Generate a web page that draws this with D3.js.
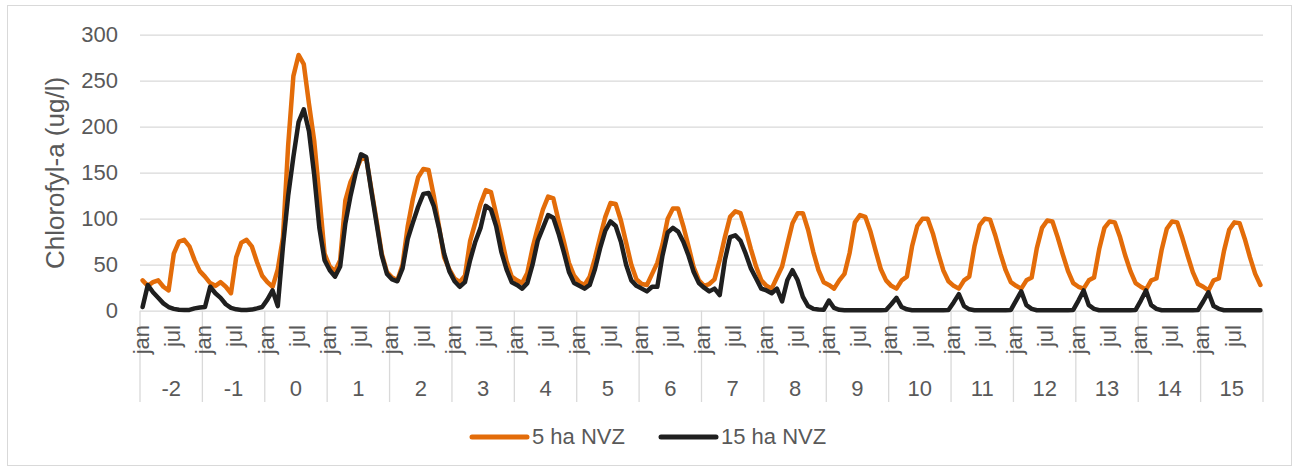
<!DOCTYPE html>
<html>
<head>
<meta charset="utf-8">
<script src="https://cdn.jsdelivr.net/npm/d3@7"></script>
<style>
  body { margin: 0; background: #fff; }
  svg { display: block; }
  text { font-family: "Liberation Sans", Arial, sans-serif; fill: #595959; }
</style>
</head>
<body>
<script>
  // years on the outer axis level, months on the inner one
  const years = [-2, -1, 0, 1, 2, 3, 4, 5, 6, 7, 8, 9, 10, 11, 12, 13, 14, 15];
  const monthLabels = ['jan', '', '', '', '', '', 'jul', '', '', '', '', ''];
  const yTicks = [0, 50, 100, 150, 200, 250, 300];
  const seriesNames = ['5 ha NVZ', '15 ha NVZ'];

  // chlorofyl-a, one row per year (jan..dec)
  const ha5 = [
    33, 27, 31, 33, 26, 22, 62, 75, 77, 70, 55, 43,
    37, 30, 27, 31, 26, 19, 58, 74, 77, 70, 53, 38,
    31, 26, 45, 80, 180, 255, 278, 268, 225, 185, 125, 62,
    48, 43, 55, 120, 140, 152, 165, 166, 132, 98, 62, 42,
    36, 33, 50, 92, 122, 145, 154, 153, 125, 92, 58, 45,
    35, 31, 38, 76, 96, 116, 131, 129, 105, 80, 54, 37,
    33, 30, 41, 68, 90, 110, 124, 122, 98, 76, 52, 38,
    31, 28, 37, 57, 80, 102, 117, 116, 98, 74, 50, 34,
    29, 28, 40, 52, 72, 100, 111, 111, 92, 70, 47, 33,
    27, 29, 34, 55, 80, 102, 108, 106, 88, 67, 48, 33,
    27, 24, 36, 48, 72, 95, 106, 106, 88, 64, 44, 31,
    28, 24, 33, 40, 63, 96, 104, 102, 86, 65, 45, 33,
    27, 24, 33, 37, 70, 92, 100, 100, 84, 63, 44, 32,
    27, 24, 33, 37, 70, 93, 100, 99, 82, 62, 44, 31,
    27, 24, 33, 36, 68, 90, 98, 97, 80, 61, 43, 30,
    26, 24, 33, 36, 67, 90, 97, 96, 80, 60, 43, 30,
    26, 23, 33, 35, 66, 89, 97, 96, 79, 60, 42, 29,
    26, 22, 33, 35, 65, 88, 96, 95, 78, 58, 40, 28
  ];

  const ha15 = [
    4, 28, 20, 14, 8, 4, 2, 1, 0.8, 0.8, 2.5, 3.5,
    4, 26, 19, 14, 7, 3, 1.5, 0.8, 0.8, 1.2, 2.5, 4,
    12, 22, 5, 70, 125, 167, 205, 219, 195, 148, 90, 55,
    44, 37, 48, 95, 125, 150, 170, 167, 130, 95, 60, 40,
    34, 32, 46, 78, 96, 113, 127, 128, 114, 90, 62, 43,
    32, 26, 31, 55, 75, 90, 114, 110, 92, 64, 45, 31,
    28, 24, 30, 50, 76, 90, 104, 101, 84, 64, 42, 30,
    27, 24, 28, 45, 68, 87, 97, 92, 75, 50, 33, 27,
    24, 21, 26, 26, 60, 85, 90, 86, 75, 60, 42, 30,
    25, 21, 24, 17, 55, 80, 82, 76, 62, 46, 35, 24,
    22, 19, 24, 10, 33, 44, 33, 15, 5, 2, 1.2, 1,
    11, 3, 1, 0.5, 0.5, 0.5, 0.5, 0.5, 0.5, 0.5, 0.5, 0.8,
    7, 14, 4, 1.5, 0.5, 0.5, 0.5, 0.5, 0.5, 0.5, 0.5, 0.8,
    9, 18, 5, 1.5, 0.5, 0.5, 0.5, 0.5, 0.5, 0.5, 0.5, 0.8,
    11, 21, 6, 2, 0.5, 0.5, 0.5, 0.5, 0.5, 0.5, 0.5, 0.8,
    11, 22, 6, 2, 0.5, 0.5, 0.5, 0.5, 0.5, 0.5, 0.5, 0.8,
    11, 22, 6, 2, 0.5, 0.5, 0.5, 0.5, 0.5, 0.5, 0.5, 0.8,
    10, 20, 5, 2, 0.5, 0.5, 0.5, 0.5, 0.5, 0.5, 0.5, 0.5
  ];

  const colors = ['#e36c09', '#1f1f1f'];

  const W = 1293, H = 470;
  const plotL = 140, plotR = 1263, plotT = 34.7, plotB = 310.7;
  const grid = '#d9d9d9';

  const svg = d3.select('body').append('svg').attr('width', W).attr('height', H);

  // chart border
  svg.append('rect')
    .attr('x', 7.5).attr('y', 5.5).attr('width', 1284).attr('height', 460)
    .attr('fill', '#fff').attr('stroke', grid).attr('stroke-width', 1);

  const cats = [];
  years.forEach(yr => monthLabels.forEach((lab, m) => cats.push({ yr, m, lab })));

  const x = d3.scaleBand().domain(d3.range(cats.length)).range([plotL, plotR]);
  const xYear = d3.scaleBand().domain(years).range([plotL, plotR]);
  const y = d3.scaleLinear().domain([0, 300]).range([plotB, plotT]);
  const cx = i => x(i) + x.bandwidth() / 2;

  // gridlines
  svg.append('g')
    .attr('transform', `translate(${plotL},0)`)
    .call(d3.axisLeft(y).tickValues(yTicks).tickSize(-(plotR - plotL)).tickFormat(''))
    .call(g => g.select('.domain').remove())
    .call(g => g.selectAll('line').attr('stroke', grid).attr('stroke-width', 1.3));

  // y labels
  svg.append('g')
    .attr('transform', `translate(${plotL},0)`)
    .call(d3.axisLeft(y).tickValues(yTicks).tickSize(0).tickPadding(22))
    .call(g => g.select('.domain').remove())
    .call(g => g.selectAll('text')
      .attr('font-size', 22)
      .attr('font-family', '"Liberation Sans", Arial, sans-serif')
      .attr('fill', '#595959'));

  svg.append('text')
    .attr('transform', `translate(64,173) rotate(-90)`)
    .attr('text-anchor', 'middle')
    .attr('font-size', 26)
    .text('Chlorofyl-a (ug/l)');

  // year separators on the category axis
  svg.append('g').selectAll('line')
    .data(d3.range(years.length + 1))
    .join('line')
    .attr('x1', k => k < years.length ? xYear(years[k]) : plotR)
    .attr('x2', k => k < years.length ? xYear(years[k]) : plotR)
    .attr('y1', plotB).attr('y2', 402)
    .attr('stroke', grid).attr('stroke-width', 1.3);

  // month labels
  svg.append('g').selectAll('text')
    .data(cats.map((c, i) => ({ ...c, i })).filter(c => c.lab))
    .join('text')
    .attr('transform', c => `translate(${cx(c.i)},325) rotate(-90)`)
    .attr('text-anchor', 'end')
    .attr('dy', '0.28em')
    .attr('font-size', 22)
    .text(c => c.lab);

  // year labels
  svg.append('g').selectAll('text')
    .data(years)
    .join('text')
    .attr('x', d => xYear(d) + xYear.bandwidth() / 2)
    .attr('y', 396.3)
    .attr('text-anchor', 'middle')
    .attr('font-size', 22)
    .text(d => d);

  // series
  const line = d3.line().x((d, i) => cx(i)).y(d => y(d));
  [ha5, ha15].forEach((s, k) => {
    svg.append('path')
      .datum(s)
      .attr('d', line)
      .attr('fill', 'none')
      .attr('stroke', colors[k])
      .attr('stroke-width', 4.5)
      .attr('stroke-linejoin', 'round')
      .attr('stroke-linecap', 'round');
  });

  // legend
  const legX = [472, 661];
  const leg = svg.append('g').selectAll('g')
    .data(seriesNames)
    .join('g')
    .attr('transform', (d, k) => `translate(${legX[k]},437)`);
  leg.append('line')
    .attr('x1', 0).attr('x2', 55)
    .attr('stroke', (d, k) => colors[k])
    .attr('stroke-width', 5)
    .attr('stroke-linecap', 'round');
  leg.append('text')
    .attr('x', 60).attr('y', 6.5)
    .attr('font-size', 22)
    .text(d => d);
</script>
</body>
</html>
